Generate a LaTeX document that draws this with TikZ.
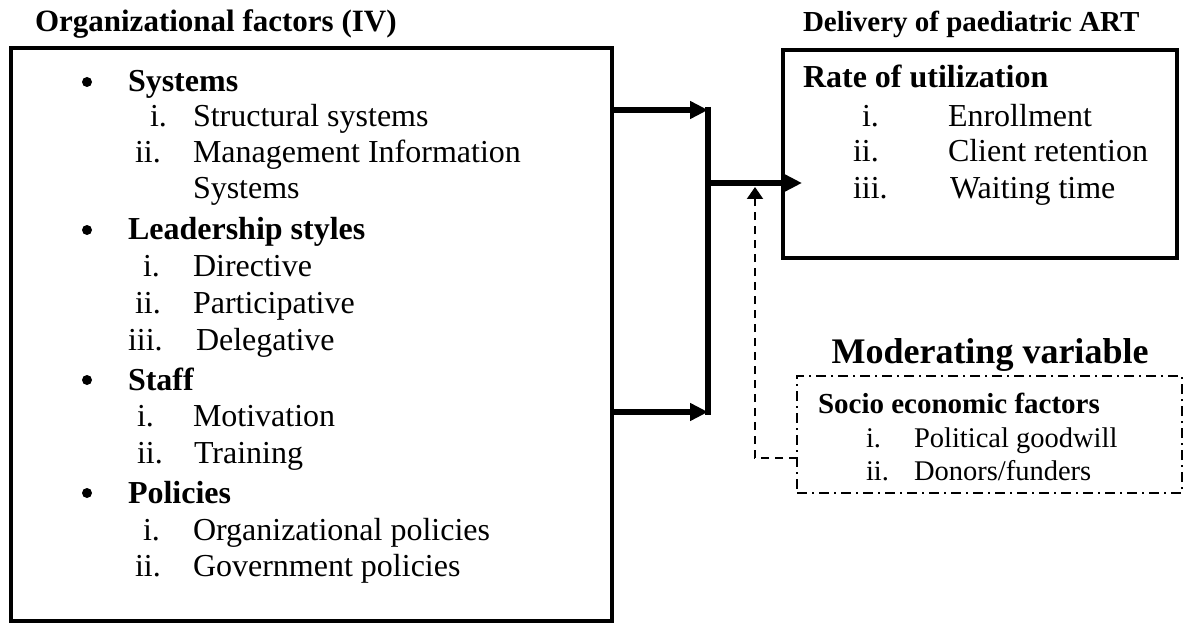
\documentclass[tikz,border=0pt]{standalone}
\usepackage{fontspec}
\setmainfont{Liberation Serif}
\usetikzlibrary{arrows.meta}
\begin{document}
\begin{tikzpicture}[x=1pt,y=-1pt,
  txt/.style={anchor=base west, inner sep=0, outer sep=0, font=\fontsize{32}{38}\selectfont},
  hd/.style={anchor=base west, inner sep=0, outer sep=0, font=\fontsize{32}{38}\selectfont\bfseries},
  ttl/.style={anchor=base west, inner sep=0, outer sep=0, font=\fontsize{31}{36}\selectfont\bfseries},
  smtxt/.style={anchor=base west, inner sep=0, outer sep=0, font=\fontsize{28.5}{34}\selectfont},
  smhd/.style={anchor=base west, inner sep=0, outer sep=0, font=\fontsize{29}{34}\selectfont\bfseries},
  bul/.style={circle, fill, inner sep=0, minimum size=10pt},
  box/.style={draw, line width=4pt, outer sep=0, inner sep=0, anchor=north west},
  modbox/.style={draw, line width=1.6pt, dash pattern=on 10pt off 5pt on 2pt off 5pt, outer sep=0, inner sep=0, anchor=north west},
  flow/.style={line width=6pt, -{Triangle[length=18pt,width=17pt]}},
  modarrow/.style={line width=2pt, dash pattern=on 8pt off 6pt, -{Triangle[length=12pt,width=16pt]}}
]
\useasboundingbox (0,0) rectangle (1184,623);

% boxes
\node[box, minimum width=601pt, minimum height=573pt] (lbox) at (11,48) {};
\node[box, minimum width=394pt, minimum height=208pt] (rbox) at (783,50) {};
\node[modbox, minimum width=385pt, minimum height=117pt] (mbox) at (797,376) {};

% titles
\node[ttl] (tl) at (35,32) {Organizational factors (IV)};
\node[smhd] (tr) at (803,32) {Delivery of paediatric ART};
\node[anchor=base, inner sep=0, font=\fontsize{36}{40}\selectfont\bfseries] (tm) at (990,363) {Moderating variable};

% left box content
\node[bul] (b1) at (87,82) {};
\node[hd] (h1) at (128,92) {Systems};
\node[txt] (n11) at (150,127) {i.};
\node[txt] (s11) at (193,127) {Structural systems};
\node[txt] (n12) at (135,163) {ii.};
\node[txt] (s12) at (193,163) {Management Information};
\node[txt] (s12b) at (193,198) {Systems};

\node[bul] (b2) at (87,230) {};
\node[hd] (h2) at (128,240) {Leadership styles};
\node[txt] (n21) at (143,276) {i.};
\node[txt] (s21) at (193,276) {Directive};
\node[txt] (n22) at (135,313) {ii.};
\node[txt] (s22) at (193,313) {Participative};
\node[txt] (n23) at (128,350) {iii.};
\node[txt] (s23) at (196,350) {Delegative};

\node[bul] (b3) at (87,380) {};
\node[hd] (h3) at (128,390) {Staff};
\node[txt] (n31) at (137,426) {i.};
\node[txt] (s31) at (193,426) {Motivation};
\node[txt] (n32) at (137,463) {ii.};
\node[txt] (s32) at (194,463) {Training};

\node[bul] (b4) at (87,493) {};
\node[hd] (h4) at (128,503) {Policies};
\node[txt] (n41) at (143,540) {i.};
\node[txt] (s41) at (193,540) {Organizational policies};
\node[txt] (n42) at (135,576) {ii.};
\node[txt] (s42) at (193,576) {Government policies};

% right box content
\node[hd] (rh) at (803,88) {Rate of utilization};
\node[txt] (rn1) at (862,127) {i.};
\node[txt] (rs1) at (948,127) {Enrollment};
\node[txt] (rn2) at (853,162) {ii.};
\node[txt] (rs2) at (948,162) {Client retention};
\node[txt] (rn3) at (853,199) {iii.};
\node[txt] (rs3) at (950,199) {Waiting time};

% moderating box content
\node[smhd] (mh) at (818,413) {Socio economic factors};
\node[smtxt] (mn1) at (866,447) {i.};
\node[smtxt] (ms1) at (914,447) {Political goodwill};
\node[smtxt] (mn2) at (866,480) {ii.};
\node[smtxt] (ms2) at (914,480) {Donors/funders};

% connectors
\coordinate (j1) at (708,110);
\coordinate (j2) at (708,412);
\coordinate (jm) at (707,183);
\coordinate (tip) at (802,183);
\coordinate (mup) at (755,187);

\draw[flow] (lbox.east |- j1) -- (j1);
\draw[flow] (lbox.east |- j2) -- (j2);
\draw[line width=6.5pt] ([yshift=3pt]j1) -- ([yshift=-3pt]j2);
\draw[flow] (jm) -- (tip);
\draw[modarrow] (mbox.west |- 0,458) -| (mup);
\end{tikzpicture}
\end{document}
